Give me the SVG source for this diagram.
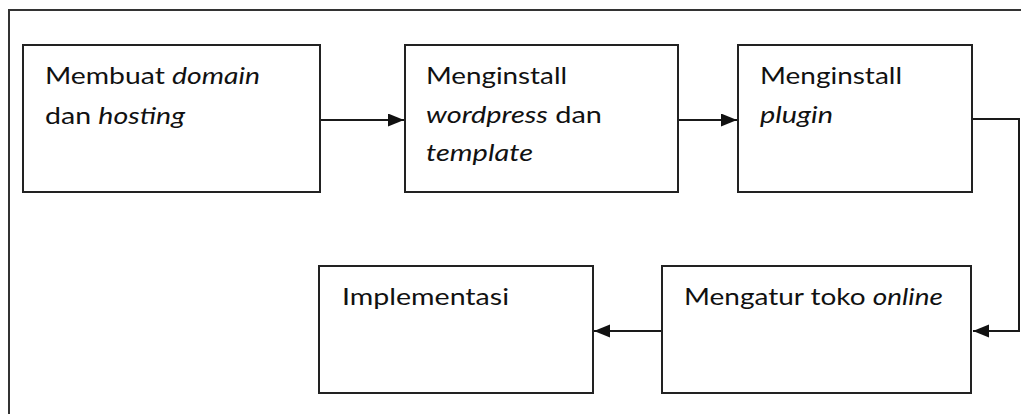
<svg xmlns="http://www.w3.org/2000/svg" width="1021" height="414" viewBox="0 0 1021 414">
<style>
.box{fill:#fff;stroke:#222;stroke-width:2}
.frame{fill:none;stroke:#333;stroke-width:2}
.conn{fill:none;stroke:#1a1a1a;stroke-width:2}
.t{font-family:Lato,"Liberation Sans",sans-serif;font-size:24px;fill:#111}
.i{font-style:italic}
</style>
<defs>
<marker id="ah" markerUnits="userSpaceOnUse" markerWidth="17" markerHeight="14" refX="16" refY="6.5" orient="auto">
<path d="M0,0 L16,6.5 L0,13 z" fill="#111"/>
</marker>
</defs>
<rect width="1021" height="414" fill="#fff"/>
<path class="frame" d="M9,414 V10 H1021"/>
<g id="connectors">
<path class="conn" d="M320,120 H404" marker-end="url(#ah)"/>
<path class="conn" d="M678,120 H737" marker-end="url(#ah)"/>
<path class="conn" d="M972,119 H1019 V331 H973" marker-end="url(#ah)"/>
<path class="conn" d="M662,331 H594" marker-end="url(#ah)"/>
</g>
<g id="n1">
<rect class="box" x="23" y="45" width="297" height="147"/>
<text class="t" x="45" y="84" textLength="215" lengthAdjust="spacingAndGlyphs">Membuat <tspan class="i">domain</tspan></text>
<text class="t" x="45" y="124" textLength="140" lengthAdjust="spacingAndGlyphs">dan <tspan class="i">hosting</tspan></text>
</g>
<g id="n2">
<rect class="box" x="405" y="45" width="273" height="147"/>
<text class="t" x="426" y="84" textLength="141" lengthAdjust="spacingAndGlyphs">Menginstall</text>
<text class="t" x="426" y="123" textLength="176" lengthAdjust="spacingAndGlyphs"><tspan class="i">wordpress</tspan> dan</text>
<text class="t i" x="426" y="161" textLength="107" lengthAdjust="spacingAndGlyphs">template</text>
</g>
<g id="n3">
<rect class="box" x="738" y="45" width="234" height="147"/>
<text class="t" x="760" y="84" textLength="142" lengthAdjust="spacingAndGlyphs">Menginstall</text>
<text class="t i" x="760" y="123" textLength="73" lengthAdjust="spacingAndGlyphs">plugin</text>
</g>
<g id="n4">
<rect class="box" x="319" y="266" width="274" height="127"/>
<text class="t" x="342" y="305" textLength="167" lengthAdjust="spacingAndGlyphs">Implementasi</text>
</g>
<g id="n5">
<rect class="box" x="662" y="266" width="309" height="127"/>
<text class="t" x="684" y="305" textLength="259" lengthAdjust="spacingAndGlyphs">Mengatur toko <tspan class="i">online</tspan></text>
</g>
</svg>
